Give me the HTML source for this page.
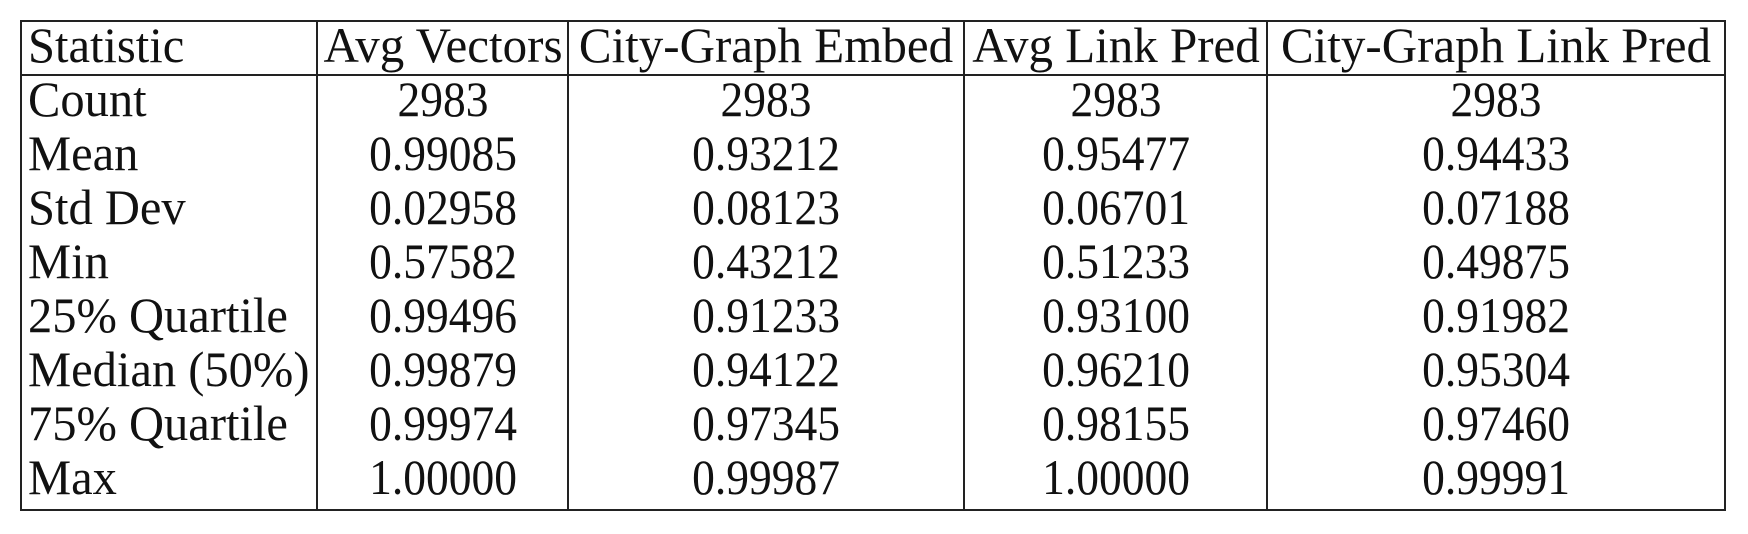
<!DOCTYPE html>
<html><head><meta charset="utf-8"><style>
body{margin:0;background:#fff;width:1748px;height:534px;overflow:hidden;position:relative;font-family:"Liberation Serif",serif;color:#111}
.l{position:absolute;background:#222}
.t{position:absolute;font-size:50px;line-height:56px;white-space:nowrap;transform:scaleX(0.97);transform-origin:left center}
.c{transform:translateX(-50%) scaleX(0.91);transform-origin:center center}
.h{transform:translateX(-50%) scaleX(0.98);transform-origin:center center}
</style></head><body>
<script>
const headers=["Statistic","Avg Vectors","City-Graph Embed","Avg Link Pred","City-Graph Link Pred"];
const rowLabels=["Count","Mean","Std Dev","Min","25% Quartile","Median (50%)","75% Quartile","Max"];
const avgVectors=["2983","0.99085","0.02958","0.57582","0.99496","0.99879","0.99974","1.00000"];
const cityEmbed=["2983","0.93212","0.08123","0.43212","0.91233","0.94122","0.97345","0.99987"];
const avgLink=["2983","0.95477","0.06701","0.51233","0.93100","0.96210","0.98155","1.00000"];
const cityLink=["2983","0.94433","0.07188","0.49875","0.91982","0.95304","0.97460","0.99991"];
const cols=[avgVectors,cityEmbed,avgLink,cityLink];
const xs=[20,316,567,963,1266,1724];
const yTop=20,yHdr=74,yBot=509,rowH=54,firstY=99,hdrY=45;
function line(x,y,w,h,n){const d=document.createElement('div');d.className='l';
d.style.cssText=`left:${x}px;top:${y}px;width:${w}px;height:${h}px`;


document.body.appendChild(d);}
function text(s,x,y,cls,n){const d=document.createElement('div');d.className='t'+(cls?' '+cls:'');
d.textContent=s;d.style.left=x+'px';d.style.top=(y-28)+'px';


document.body.appendChild(d);}
line(xs[0],yTop,xs[5]-xs[0]+2,2,'table-top-border');
line(xs[0],yHdr,xs[5]-xs[0]+2,2,'header-divider');
line(xs[0],yBot,xs[5]-xs[0]+2,2,'table-bottom-border');
xs.forEach((x,i)=>line(x,yTop,2,yBot-yTop+2,'column-border-'+i));
headers.forEach((h,i)=>{
  if(i===0) text(h,xs[0]+8,hdrY,'','header-statistic');
  else text(h,(xs[i]+xs[i+1])/2+1,hdrY,'h','header-'+h.toLowerCase().replace(/[^a-z]+/g,'-'));
});
rowLabels.forEach((r,j)=>{
  const y=firstY+j*rowH;
  text(r,xs[0]+8,y,'','row-label-'+r.toLowerCase().replace(/[^a-z0-9]+/g,'-'));
  cols.forEach((c,i)=>text(c[j],(xs[i+1]+xs[i+2])/2+1,y,'c','cell-'+(i+1)+'-'+(j+1)));
});
</script>
</body></html>
